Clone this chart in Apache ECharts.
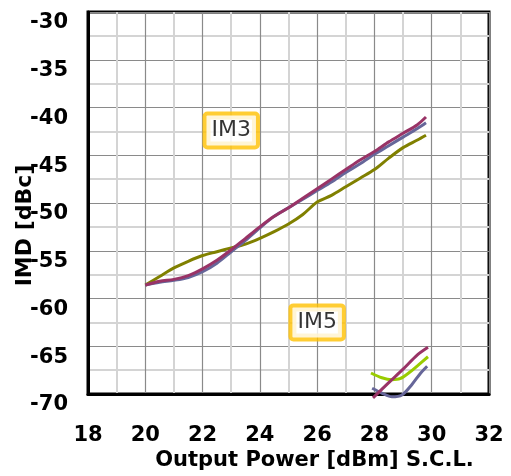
<!DOCTYPE html>
<html>
<head>
<meta charset="utf-8">
<script src="https://cdn.jsdelivr.net/npm/echarts@6/dist/echarts.min.js"></script>
<style>
  html, body { margin: 0; padding: 0; background: #fff; }
  #chart { width: 511px; height: 476px; }
</style>
</head>
<body>
<div id="chart"></div>
<script>
// IM3 curves
const im3X = [20, 20.5, 21, 21.5, 22, 22.5, 23, 23.5, 24, 24.5, 25, 25.5, 26, 26.5, 27, 27.5, 28, 28.5, 29, 29.5, 29.8]
const im3Magenta = [-58.6, -58.2, -58.0, -57.6, -56.9, -56.0, -54.9, -53.7, -52.5, -51.4, -50.5, -49.5, -48.5, -47.5, -46.5, -45.5, -44.6, -43.6, -42.7, -41.8, -41.0]
const im3Blue = [-58.6, -58.3, -58.1, -57.8, -57.2, -56.3, -55.1, -53.9, -52.6, -51.4, -50.5, -49.6, -48.7, -47.8, -46.8, -45.9, -44.9, -44.0, -43.1, -42.2, -41.6]
const im3Olive = [-58.6, -57.7, -56.8, -56.1, -55.5, -55.1, -54.7, -54.3, -53.7, -53.0, -52.2, -51.2, -49.9, -49.2, -48.3, -47.4, -46.5, -45.3, -44.2, -43.4, -42.9]

// IM5 curves
const im5MagentaX = [27.95, 28.5, 29, 29.5, 29.87]
const im5Magenta = [-70.4, -68.8, -67.4, -65.9, -65.1]
const im5LimeX = [27.88, 28.26, 28.61, 28.89, 29.24, 29.52, 29.87]
const im5Lime = [-67.8, -68.3, -68.5, -68.4, -67.7, -67.0, -66.1]
const im5BlueX = [27.92, 28.26, 28.61, 28.96, 29.31, 29.59, 29.84]
const im5Blue = [-69.4, -69.9, -70.3, -70.1, -69.0, -67.9, -67.1]

// annotation boxes
const noteText = ['IM3', 'IM5']
const noteX = [23.0, 26.0]
const noteY = [-42.4, -62.5]

const FONT = 'DejaVu Sans'

function pairs(xs, ys) {
  return xs.map((x, i) => [x, ys[i]])
}

function lineSeries(name, xs, ys, color) {
  return {
    name: name,
    type: 'line',
    data: pairs(xs, ys),
    smooth: 0.3,
    showSymbol: false,
    clip: false,
    silent: true,
    lineStyle: { color: color, width: 3 }
  }
}

const myChart = echarts.init(document.getElementById('chart'))

const options = {
  animation: false,
  backgroundColor: '#fff',
  grid: {
    left: 88,
    right: 22,
    top: 12,
    bottom: 82,
    containLabel: false,
    outerBoundsMode: 'none',
    show: true,
    borderColor: '#000',
    borderWidth: 3
  },
  xAxis: {
    type: 'value',
    min: 18,
    max: 32,
    interval: 2,
    name: 'Output Power [dBm] S.C.L.',
    nameLocation: 'middle',
    nameGap: 56,
    nameMoveOverlap: false,
    nameTextStyle: {
      fontFamily: FONT,
      fontWeight: 'bold',
      fontSize: 21,
      color: '#000',
      padding: [0, 0, 0, 52]
    },
    axisLine: { lineStyle: { color: '#000', width: 3 } },
    axisTick: { show: false },
    axisLabel: {
      margin: 31,
      hideOverlap: false,
      fontFamily: FONT,
      fontWeight: 'bold',
      fontSize: 21,
      color: '#000'
    },
    splitLine: { show: true, lineStyle: { color: '#8a8a8a', width: 1.2 } },
    minorTick: { show: false, splitNumber: 2 },
    minorSplitLine: { show: true, lineStyle: { color: '#d4d4d4', width: 2 } }
  },
  yAxis: {
    type: 'value',
    min: -70,
    max: -30,
    interval: 5,
    name: 'IMD [dBc]',
    nameLocation: 'middle',
    nameGap: 52,
    nameMoveOverlap: false,
    nameTextStyle: {
      fontFamily: FONT,
      fontWeight: 'bold',
      fontSize: 22,
      color: '#000',
      padding: [0, 45, 0, 0]
    },
    axisLine: { lineStyle: { color: '#000', width: 3 } },
    axisTick: { show: false },
    axisLabel: {
      margin: 20,
      hideOverlap: false,
      verticalAlign: 'top',
      lineHeight: 22,
      fontFamily: FONT,
      fontWeight: 'bold',
      fontSize: 21,
      color: '#000'
    },
    splitLine: { show: true, lineStyle: { color: '#8a8a8a', width: 1.2 } },
    minorTick: { show: false, splitNumber: 2 },
    minorSplitLine: { show: true, lineStyle: { color: '#d4d4d4', width: 2 } }
  },
  series: [
    lineSeries('IM3 olive', im3X, im3Olive, '#808000'),
    lineSeries('IM3 blue', im3X, im3Blue, '#666699'),
    lineSeries('IM3 magenta', im3X, im3Magenta, '#993366'),
    lineSeries('IM5 lime', im5LimeX, im5Lime, '#99CC00'),
    lineSeries('IM5 blue', im5BlueX, im5Blue, '#666699'),
    lineSeries('IM5 magenta', im5MagentaX, im5Magenta, '#993366'),
    {
      name: 'notes',
      type: 'scatter',
      silent: true,
      symbolSize: 0,
      data: noteText.map((t, i) => [noteX[i], noteY[i], t]),
      label: {
        show: true,
        position: 'inside',
        formatter: p => p.value[2],
        fontFamily: FONT,
        fontSize: 22,
        color: '#000',
        backgroundColor: '#fff',
        borderColor: '#FFC000',
        borderWidth: 4,
        borderRadius: 1,
        padding: [5, 5, 3, 5]
      }
    }
  ]
}

myChart.setOption(options)
</script>
</body>
</html>
